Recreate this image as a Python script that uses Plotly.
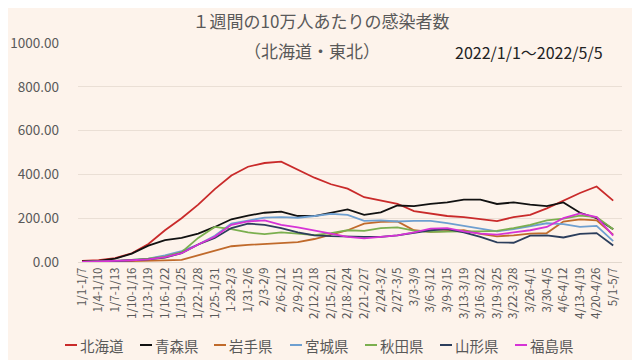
import plotly.graph_objects as go

labels = ["1/1-1/7", "1/4-1/10", "1/7-1/13", "1/10-1/16", "1/13-1/19", "1/16-1/22",
          "1/19-1/25", "1/22-1/28", "1/25-1/31", "1-28-2/3", "1/31-2/6", "2/3-2/9",
          "2/6-2/12", "2/9-2/15", "2/12-2/18", "2/15-2/21", "2/18-2/24", "2/21-2/27",
          "2/24-3/2", "2/27-3/5", "3/3-3/9", "3/6-3/12", "3/9-3/15", "3/13-3/19",
          "3/16-3/22", "3/19-3/25", "3/22-3/28", "3/26-4/1", "3/30-4/5", "4/6-4/12",
          "4/13-4/19", "4/20-4/26", "5/1-5/7"]

hokkaido = [5, 8, 18, 40, 82, 145, 200, 262, 333, 395, 435, 452, 458, 420, 385, 355, 335,
            296, 280, 266, 232, 222, 210, 205, 195, 187, 205, 215, 245, 280, 315, 345, 280]
aomori = [3, 5, 15, 38, 75, 100, 110, 130, 160, 195, 212, 225, 230, 210, 210, 225, 240,
          215, 227, 258, 255, 265, 272, 285, 285, 265, 272, 262, 255, 272, 225, 200, 150]
iwate = [0, 1, 2, 3, 5, 7, 10, 30, 50, 72, 78, 83, 88, 91, 105, 125, 145,
         175, 183, 185, 145, 138, 140, 145, 128, 117, 122, 130, 132, 185, 195, 190, 125]
miyagi = [1, 2, 5, 10, 15, 30, 50, 80, 120, 175, 190, 203, 205, 202, 210, 220, 215,
          188, 190, 185, 188, 188, 178, 165, 155, 140, 150, 165, 177, 173, 160, 165, 95]
akita = [1, 2, 5, 10, 15, 25, 45, 110, 160, 150, 135, 127, 135, 130, 123, 132, 145,
         142, 155, 158, 143, 138, 140, 140, 140, 142, 155, 170, 190, 198, 212, 205, 150]
yamagata = [1, 2, 4, 8, 12, 20, 40, 80, 110, 155, 175, 170, 155, 135, 122, 118, 115,
            115, 115, 122, 133, 145, 150, 135, 115, 90, 88, 120, 122, 112, 128, 132, 75]
fukushima = [1, 2, 5, 8, 12, 22, 40, 80, 115, 170, 185, 190, 170, 158, 145, 130, 115,
             108, 115, 122, 135, 152, 155, 140, 130, 125, 135, 145, 160, 200, 222, 205, 120]

series = [
    ("北海道", hokkaido, "#C92A2A"),
    ("青森県", aomori, "#111111"),
    ("岩手県", iwate, "#C06A2B"),
    ("宮城県", miyagi, "#6E9FD0"),
    ("秋田県", akita, "#7BAF4F"),
    ("山形県", yamagata, "#2C3E5C"),
    ("福島県", fukushima, "#D633D6"),
]

font_family = "Noto Sans CJK JP, Noto Sans, sans-serif"
bg = "#FDF3EB"

# page body has an 8px margin: figure drawn 8px smaller, coordinates shifted
W, H = 632, 352
L, T, R, B = 70, 35, 18, 98
PW, PH = W - L - R, H - T - B


def px(x):
    return (x - 8 - L) / PW


def py(y):
    return (H - B - (y - 8)) / PH


fig = go.Figure()
xs = list(range(len(labels)))
for name, vals, color in series:
    fig.add_trace(go.Scatter(x=xs, y=vals, mode="lines", name=name,
                             line=dict(color=color, width=1.8)))

annotations = [
    dict(text="（北海道・東北）", x=px(312), xref="paper",
         y=py(50), yref="paper", xanchor="center", yanchor="middle",
         showarrow=False, font=dict(size=17, color="#595959")),
    dict(text="2022/1/1～2022/5/5", x=px(529), xref="paper",
         y=py(52), yref="paper",
         xanchor="center", yanchor="middle", showarrow=False,
         font=dict(size=16, color="#222222")),
]
shapes = []
# legend drawn as short line keys plus text, like the original
legend_x = [65, 140, 214, 290, 365, 440, 515]
legend_y = 345
for (name, _, color), lx in zip(series, legend_x):
    shapes.append(dict(type="line", xref="paper", yref="paper",
                       x0=px(lx), x1=px(lx + 12), y0=py(legend_y), y1=py(legend_y),
                       line=dict(color=color, width=2)))
    annotations.append(dict(text=name, x=px(lx + 13), xref="paper", y=py(legend_y),
                            yref="paper", xanchor="left", yanchor="middle",
                            showarrow=False, font=dict(size=14.5, color="#595959")))

fig.update_layout(
    width=W, height=H,
    paper_bgcolor=bg, plot_bgcolor=bg,
    margin=dict(l=L, r=R, t=T, b=B, autoexpand=False),
    font=dict(family=font_family, color="#595959"),
    title=dict(text="１週間の10万人あたりの感染者数", x=(321 - 8) / W, xref="container",
               xanchor="center", y=1 - (22 - 8) / H, yref="container", yanchor="middle",
               font=dict(size=17, color="#595959")),
    showlegend=False,
    annotations=annotations,
    shapes=shapes,
)

fig.update_xaxes(
    range=[-0.24, 32.53], tickmode="array", tickvals=xs, ticktext=labels,
    tickangle=-90, tickfont=dict(size=11.5, color="#595959"),
    showgrid=False, showline=True, linecolor="#E2D8CE", linewidth=1,
    ticks="", zeroline=False, automargin=False,
)
fig.update_yaxes(
    range=[0, 1000], tickvals=[0, 200, 400, 600, 800, 1000],
    ticktext=["0.00", "200.00", "400.00", "600.00", "800.00", "1000.00"],
    tickfont=dict(size=13.5, color="#595959"), showgrid=True, gridcolor="#EADFD5",
    gridwidth=1, zeroline=False, showline=False, ticks="", ticklabelstandoff=18,
    automargin=False,
)

fig.write_html("out.html")
